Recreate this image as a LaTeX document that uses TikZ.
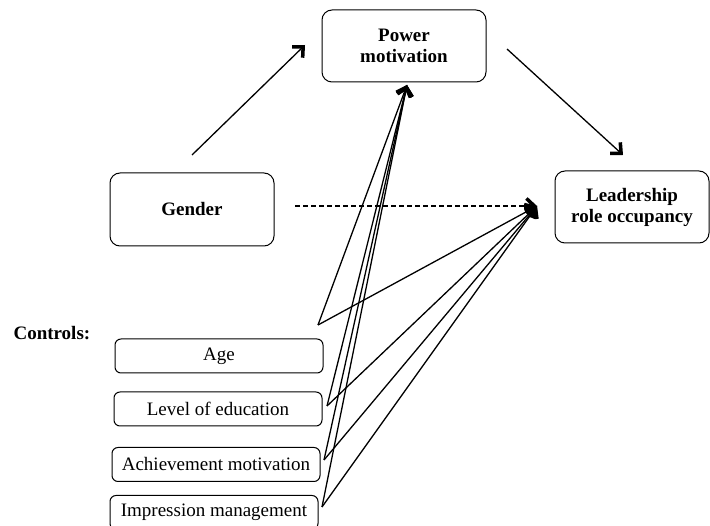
\documentclass[tikz,border=0pt]{standalone}
\usepackage{fontspec}
\setmainfont{Liberation Serif}
\usetikzlibrary{arrows.meta}

\begin{document}
\begin{tikzpicture}[x=1pt,y=-1pt,
  mainbox/.style={rectangle,rounded corners=10pt,draw,line width=1pt,align=center,
    font=\fontsize{19}{21}\selectfont\bfseries},
  ctrlbox/.style={rectangle,rounded corners=6pt,draw,line width=1pt,minimum width=208pt,
    minimum height=34pt,font=\fontsize{19}{21}\selectfont},
  link/.style={line width=1.3pt,-{Straight Barb[length=8pt,width=15pt,line width=3.5pt]}}]
\useasboundingbox (0,0) rectangle (710,526);

% Main variables
\node[mainbox,minimum width=164pt,minimum height=72pt] (power) at (404,46) {Power\\motivation};
\node[mainbox,minimum width=164pt,minimum height=73pt] (gender) at (192,209.5) {Gender};
\node[mainbox,minimum width=154pt,minimum height=72pt] (leader) at (632,207) {Leadership\\role occupancy};

% Controls
\node[font=\fontsize{19}{21}\selectfont\bfseries,anchor=west] (controls) at (10,333) {Controls:};
\node[ctrlbox] (age) at (219,356) {Age};
\node[ctrlbox] (edu) at (218,409) {Level of education};
\node[ctrlbox] (ach) at (216,464.5) {Achievement motivation};
\node[ctrlbox] (imp) at (214,512.5) {Impression management};

% Arrow ends
\coordinate (g1) at (192,155);
\coordinate (g2) at (305,45);
\coordinate (p1) at (507,49);
\coordinate (p2) at (623,155);
\coordinate (d1) at (295,206);
\coordinate (ptip) at (407,85);
\coordinate (ltip) at (537,206);
\coordinate (a0) at (318,325);
\coordinate (e0) at (327,406);
\coordinate (c0) at (324,460);
\coordinate (m0) at (322,507);

% Connections
\draw[link] (g1) -- (g2);
\draw[link] (p1) -- (p2);
\draw[link,dash pattern=on 5pt off 3pt] (d1) -- (ltip);
\foreach \s in {a0,e0,c0,m0}{
  \draw[link] (\s) -- (ptip);
  \draw[link] (\s) -- (ltip);
}
\end{tikzpicture}
\end{document}
